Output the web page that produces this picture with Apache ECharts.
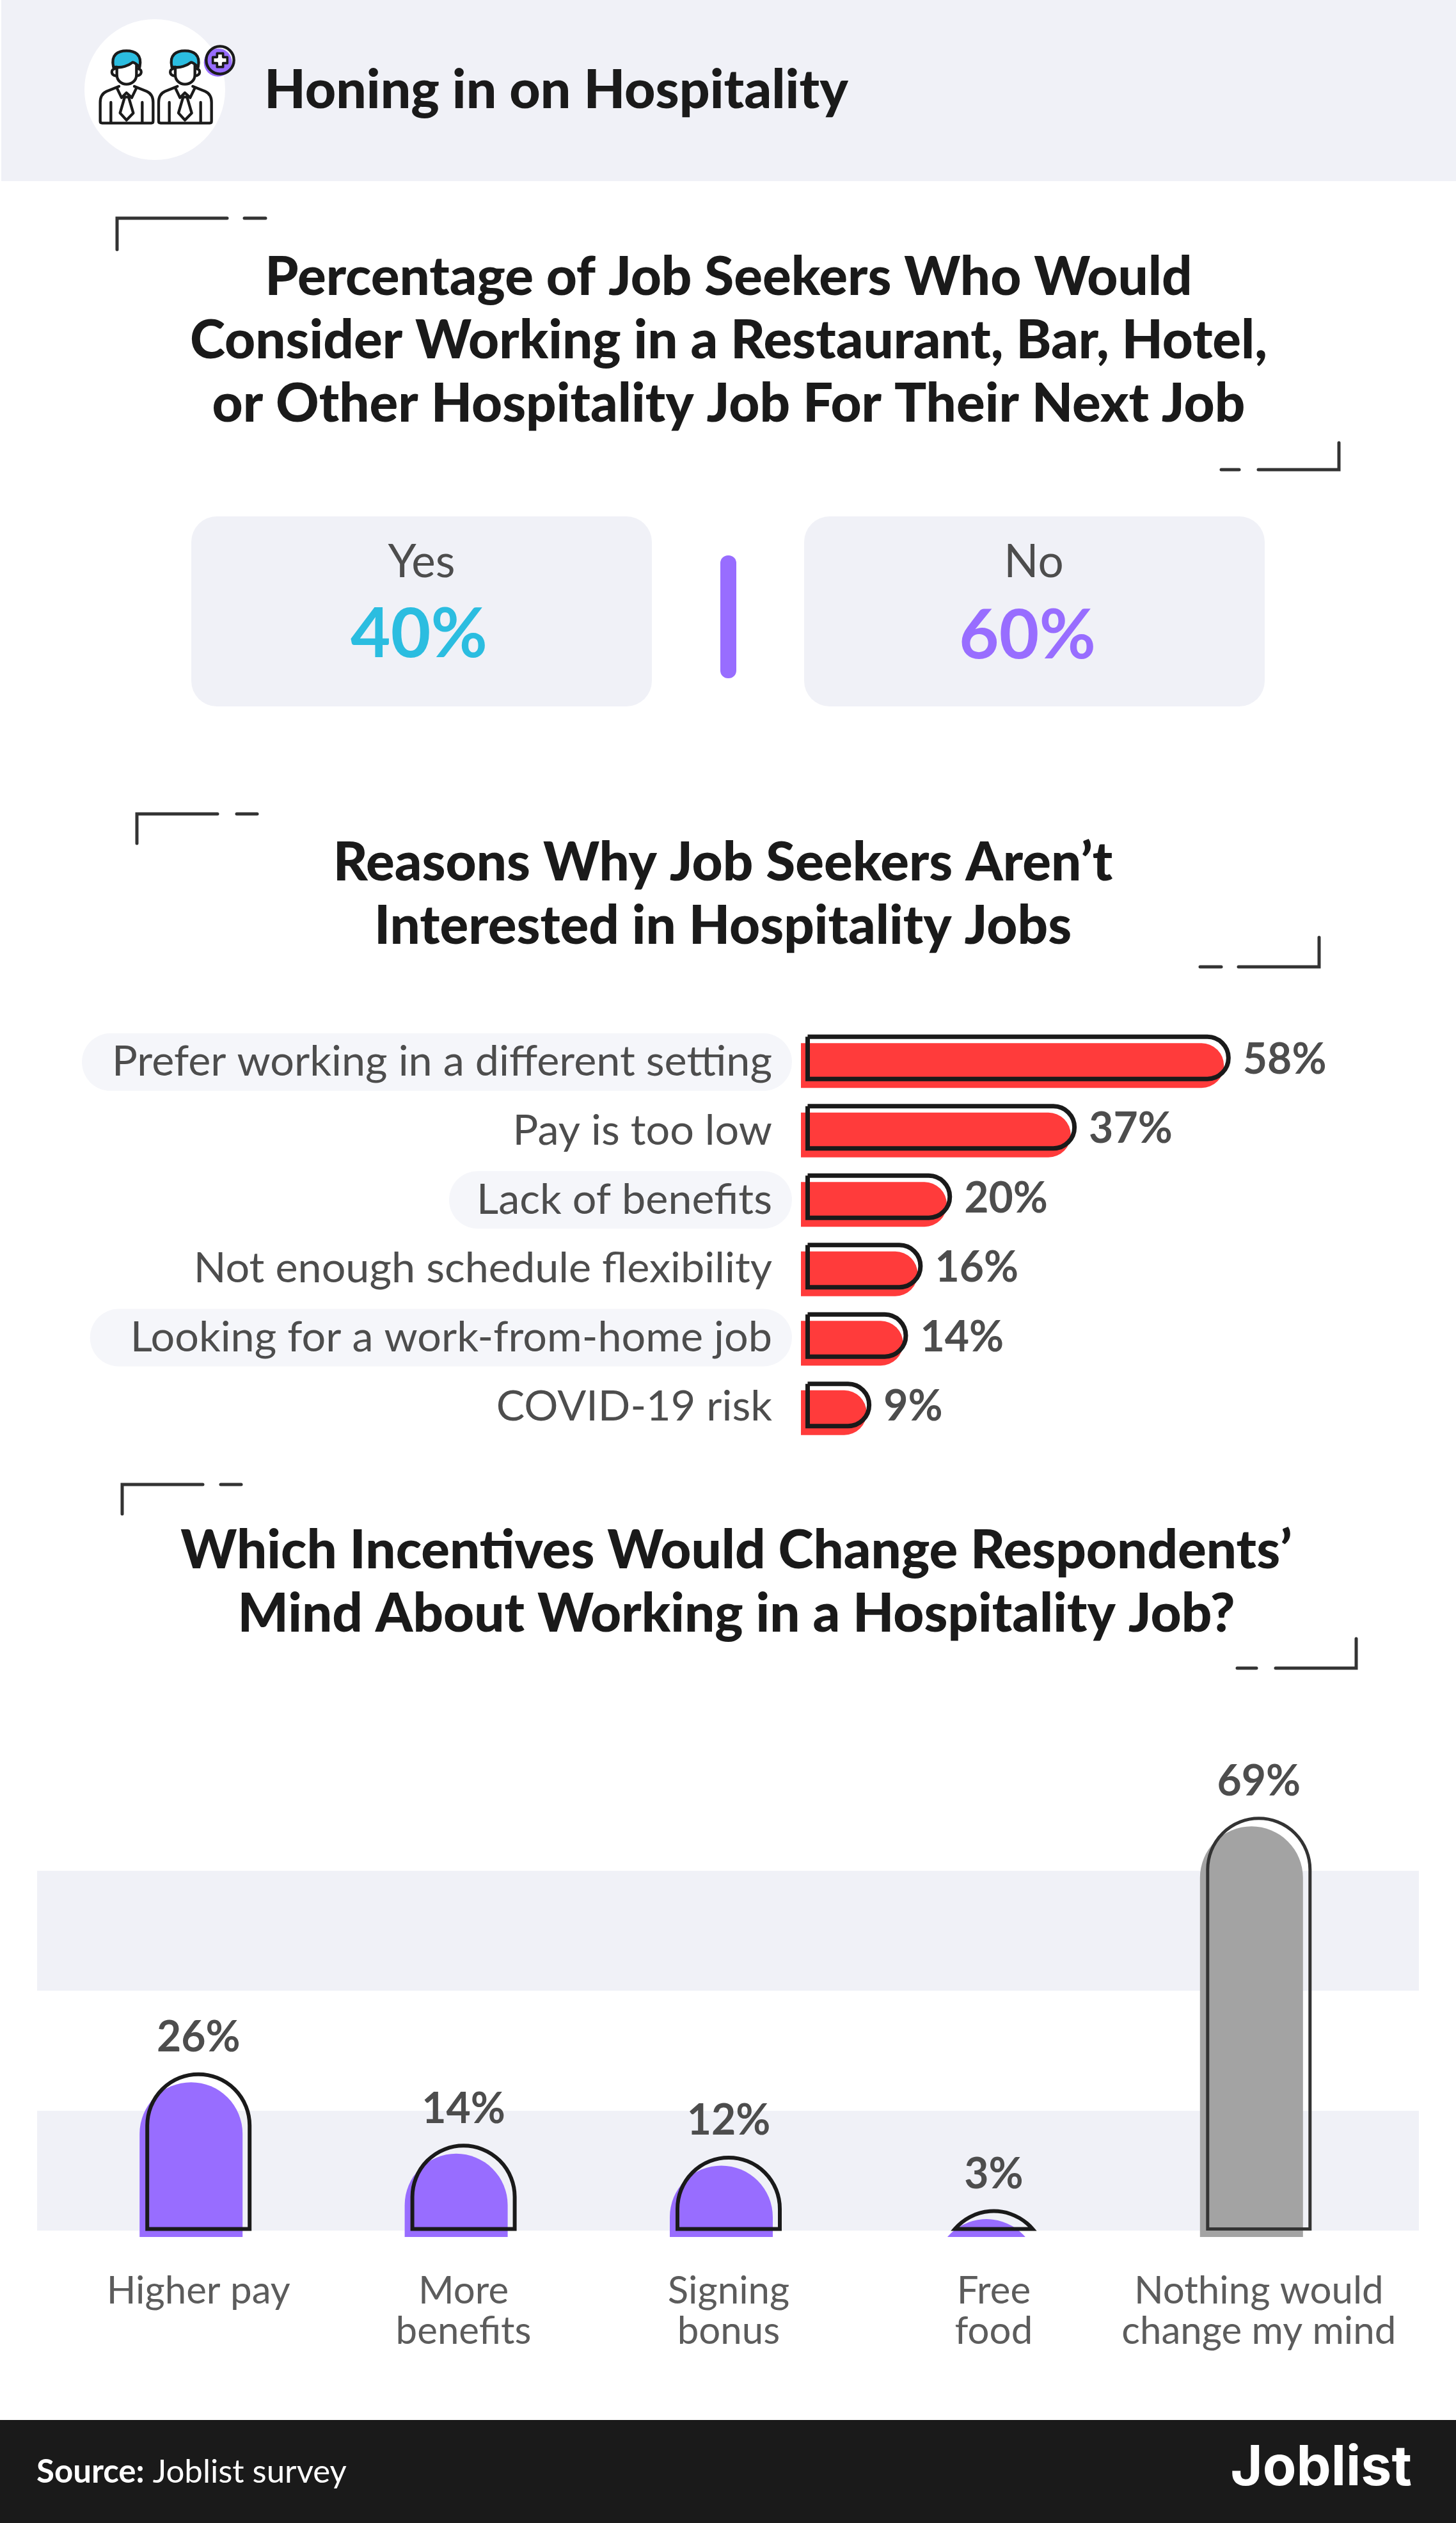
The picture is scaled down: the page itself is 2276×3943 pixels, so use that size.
<!DOCTYPE html>
<html>
<head>
<meta charset="utf-8">
<title>Honing in on Hospitality</title>
<script src="https://cdn.jsdelivr.net/npm/echarts@6/dist/echarts.min.js"></script>
<style>
  html, body { margin: 0; padding: 0; background: #fff; }
  #chart { width: 2276px; height: 3943px; }
</style>
</head>
<body>
<div id="chart"></div>
<script>
const pageTitle = "Honing in on Hospitality";
const surveyTitle = "Percentage of Job Seekers Who Would\nConsider Working in a Restaurant, Bar, Hotel,\nor Other Hospitality Job For Their Next Job";
const surveyLabels = ["Yes", "No"];
const surveyValues = [40, 60];

const reasonsTitle = "Reasons Why Job Seekers Aren\u2019t\nInterested in Hospitality Jobs";
const reasonLabels = [
  "Prefer working in a different setting",
  "Pay is too low",
  "Lack of benefits",
  "Not enough schedule flexibility",
  "Looking for a work-from-home job",
  "COVID-19 risk"
];
const reasonValues = [58, 37, 20, 16, 14, 9];

const incentivesTitle = "Which Incentives Would Change Respondents\u2019\nMind About Working in a Hospitality Job?";
const incentiveLabels = ["Higher pay", "More\nbenefits", "Signing\nbonus", "Free\nfood", "Nothing would\nchange my mind"];
const incentiveValues = [26, 14, 12, 3, 69];

const sourceLabel = "Source:";
const sourceText = "Joblist survey";
const brandText = "Joblist";

const INK = "#1a1a1a";
const TEXT = "#4d4d4d";
const BAND = "#f0f1f7";
const RED = "#ff3b3b";
const PURPLE = "#986dff";
const CYAN = "#2bbde0";
const GREY = "#a3a3a3";
const FONT = "Lato";

// pill behind every other reason label, left padding differs per row
const pillPadding = { 0: 47, 2: 43, 4: 63 };

const chart = echarts.init(document.getElementById("chart"));

function heading(text, x, y, size, lineHeight) {
  return {
    text: text,
    left: x,
    top: y,
    textAlign: "center",
    textStyle: { fontFamily: FONT, fontWeight: 900, fontSize: size, lineHeight: lineHeight, color: INK }
  };
}

// small corner marks around each section title
function bracket(x, y, dir, len, drop, gap, dash) {
  const style = { stroke: "#333", lineWidth: 5, fill: null, lineCap: "round" };
  return [
    { type: "polyline", shape: { points: [[x, y + dir * drop], [x, y], [x + dir * len, y]] }, style: style },
    { type: "line", shape: { x1: x + dir * (len + gap), y1: y, x2: x + dir * (len + gap + dash), y2: y }, style: style }
  ];
}

function box(x, y, w, h, r, color) {
  return { type: "rect", shape: { x: x, y: y, width: w, height: h, r: r }, style: { fill: color } };
}

function label(text, x, y, size, weight, color) {
  return {
    type: "text", z: 5,
    style: { text: text, x: x, y: y, fontFamily: FONT, fontSize: size, fontWeight: weight, fill: color, align: "center", verticalAlign: "middle" }
  };
}

// icon is drawn in the coordinates of a 3x crop, then scaled down.
// graphic component has no path type so it goes through a custom series
function person(dx) {
  const line = { stroke: INK, lineWidth: 13, fill: "transparent", lineJoin: "round", lineCap: "round" };
  const path = (d, style) => ({ type: "path", shape: { pathData: d }, style: Object.assign({}, line, style) });
  return {
    type: "group", x: dx, y: 0,
    children: [
      path("M172,255 C158,195 195,178 233,178 C272,178 308,195 295,255 C285,245 272,232 262,232 C240,250 210,258 188,255 Z", { fill: CYAN }),
      path("M188,255 L188,290 C188,318 210,335 233,335 C258,335 280,318 280,290 L280,245"),
      path("M178,262 C160,265 158,292 184,296"),
      path("M288,262 C308,265 308,292 282,296"),
      path("M198,345 L140,368 C120,377 110,395 110,420 L110,508 C110,514 113,517 119,517 L350,517 C356,517 358,514 358,508 L358,420 C358,395 348,377 328,368 L270,345"),
      path("M160,420 L160,515"),
      path("M307,420 L307,515"),
      path("M188,352 L210,398 L233,375 L258,398 L280,352"),
      path("M225,395 L243,395 L265,470 L233,503 L203,470 Z")
    ]
  };
}

function renderIcon() {
  return {
    type: "group", x: 120, y: 20, scaleX: 1 / 3, scaleY: 1 / 3,
    children: [
      person(0),
      person(274),
      { type: "circle", shape: { cx: 662, cy: 233, r: 66 }, style: { fill: PURPLE } },
      { type: "circle", shape: { cx: 672, cy: 222, r: 65 }, style: { fill: "transparent", stroke: INK, lineWidth: 13 } },
      { type: "path", shape: { pathData: "M658,190 L686,190 L686,208 L706,208 L706,236 L686,236 L686,254 L658,254 L658,236 L638,236 L638,208 L658,208 Z" }, style: { fill: "#fff", stroke: INK, lineWidth: 11, lineJoin: "round" } }
    ]
  };
}

const graphicElements = [
  box(2, 0, 2274, 283, 0, BAND),
  { type: "circle", shape: { cx: 242, cy: 140, r: 110 }, style: { fill: "#fff" } },
  ...bracket(183, 341, 1, 172, 49, 27, 33),
  ...bracket(2093, 734, -1, 126, 42, 30, 28),
  ...bracket(214, 1272, 1, 126, 46, 30, 32),
  ...bracket(2062, 1511, -1, 126, 46, 27, 33),
  ...bracket(191, 2320, 1, 126, 46, 28, 32),
  ...bracket(2120, 2607, -1, 126, 46, 30, 30),
  box(299, 807, 720, 297, 40, BAND),
  box(1257, 807, 720, 297, 40, BAND),
  box(1126, 868, 25, 192, 12, PURPLE),
  label(surveyLabels[0], 659, 879, 71, 400, TEXT),
  label(surveyValues[0] + "%", 655, 992, 108, 700, CYAN),
  label(surveyLabels[1], 1616, 879, 71, 400, TEXT),
  label(surveyValues[1] + "%", 1606, 994, 108, 700, PURPLE),
  box(0, 3782, 2276, 161, 0, INK),
  {
    type: "text", z: 5,
    style: {
      x: 57, y: 3864, verticalAlign: "middle", fontFamily: FONT, fontSize: 51, fill: "#fff",
      text: "{b|" + sourceLabel + "} " + sourceText,
      rich: { b: { fontFamily: FONT, fontSize: 51, fontWeight: 700, fill: "#fff" } }
    }
  },
  {
    type: "text", z: 5,
    style: { x: 2207, y: 3858, text: brandText, align: "right", verticalAlign: "middle", fontFamily: "Inter", fontSize: 86, fontWeight: 700, fill: "#fff" }
  }
];

// rich styles for the reason labels, right padding lines every row up at the same x
const reasonRich = { plain: { fontFamily: FONT, fontSize: 66.5, color: TEXT, padding: [0, 31, 0, 0] } };
Object.keys(pillPadding).forEach((i) => {
  reasonRich["pill" + i] = {
    fontFamily: FONT, fontSize: 66.5, color: TEXT,
    backgroundColor: "#f5f6fa", borderRadius: 45, height: 90,
    padding: [0, 31, 0, pillPadding[i]]
  };
});

const hidden = { show: false };

function bareValue(gridIndex, max, extra) {
  return Object.assign({
    type: "value", gridIndex: gridIndex, min: 0, max: max, interval: 20,
    axisLine: hidden, axisTick: hidden, axisLabel: hidden, splitLine: hidden
  }, extra);
}

function bareCategory(gridIndex, data, extra) {
  return Object.assign({
    type: "category", gridIndex: gridIndex, data: data,
    axisLine: hidden, axisTick: hidden, axisLabel: hidden, splitLine: hidden
  }, extra);
}

// arched column; short values cut the round top off like a clipped circle
function archColumn(params, api, width, stroke) {
  const base = api.coord([api.value(0), 0]);
  const top = api.coord([api.value(0), api.value(1)]);
  const h = base[1] - top[1];
  const r = width / 2;
  const cx = base[0];
  let d;
  if (h >= r) {
    d = `M${cx - r},${base[1]} L${cx - r},${top[1] + r} A${r},${r} 0 0 1 ${cx + r},${top[1] + r} L${cx + r},${base[1]} Z`;
  } else {
    const half = Math.sqrt(r * r - (r - h) * (r - h));
    d = `M${cx - half},${base[1]} A${r},${r} 0 0 1 ${cx + half},${base[1]} Z`;
  }
  const lastOne = params.dataIndex === incentiveValues.length - 1;
  const children = [];
  if (stroke) {
    children.push({ type: "path", shape: { pathData: d }, style: { fill: "transparent", stroke: lastOne ? "#333" : INK, lineWidth: lastOne ? 5 : 6, lineJoin: "miter" } });
    children.push({
      type: "text",
      style: {
        text: api.value(1) + "%", x: cx, y: top[1] - 57,
        fontFamily: FONT, fontSize: 66, fontWeight: 700, fill: TEXT, align: "center", verticalAlign: "middle"
      }
    });
  } else {
    children.push({ type: "path", shape: { pathData: d }, style: { fill: lastOne ? GREY : PURPLE } });
  }
  return { type: "group", children: children };
}

const incentivePoints = incentiveValues.map((v, i) => [i, v]);

const option = {
  backgroundColor: "#fff",
  animation: false,
  title: [
    { text: pageTitle, left: 408, top: 95, textStyle: { fontFamily: FONT, fontWeight: 900, fontSize: 84, color: INK } },
    heading(surveyTitle, 1134, 380, 83.5, 99),
    heading(reasonsTitle, 1125, 1295, 83.5, 99),
    heading(incentivesTitle, 1146, 2370, 83.5, 99)
  ],
  graphic: { elements: graphicElements },
  grid: [
    { left: 1252, top: 1611, width: 912, height: 651 },
    { left: 1259, top: 1599, width: 917, height: 651 },
    { left: 58, top: 2736, width: 2160, height: 750 },
    { left: 91.5, top: 2752, width: 2072, height: 744 },
    { left: 103, top: 2739.5, width: 2072, height: 744 },
    { left: 1252, top: 1606, width: 912, height: 646 }
  ],
  xAxis: [
    bareValue(0, 80),
    bareValue(1, 80),
    bareValue(2, 80),
    bareCategory(3, incentiveLabels),
    bareCategory(4, incentiveLabels, {
      axisLabel: { show: true, interval: 0, margin: 66, fontFamily: FONT, fontSize: 60, lineHeight: 63, color: "#5c5c5c" }
    }),
    bareValue(5, 80)
  ],
  yAxis: [
    bareCategory(0, reasonLabels, { inverse: true }),
    bareCategory(1, reasonLabels, { inverse: true }),
    bareValue(2, 80, { splitArea: { show: true, areaStyle: { color: [BAND, "#fff"] } } }),
    bareValue(3, 80),
    bareValue(4, 80),
    bareCategory(5, reasonLabels, {
      inverse: true,
      axisLabel: {
        show: true, interval: 0, margin: 14,
        formatter: (v, i) => `{${i in pillPadding ? "pill" + i : "plain"}|${v}}`,
        rich: reasonRich
      }
    })
  ],
  series: [
    {
      type: "custom", name: "Icon", coordinateSystem: "none", silent: true, z: 6,
      data: [0], renderItem: renderIcon
    },
    {
      type: "bar", name: "Reasons", xAxisIndex: 0, yAxisIndex: 0,
      data: reasonValues, barWidth: 70, silent: true,
      itemStyle: { color: RED, borderRadius: [0, 35, 35, 0] }
    },
    {
      // the bar border sits inside the bar, so barWidth is the outer height
      type: "bar", name: "Reasons outline", xAxisIndex: 1, yAxisIndex: 1,
      data: reasonValues, barWidth: 73, silent: true, z: 3,
      itemStyle: { color: "transparent", borderColor: INK, borderWidth: 7, borderRadius: [0, 33, 33, 0] },
      label: {
        show: true, position: "right", distance: 19, offset: [0, 3], formatter: "{c}%",
        fontFamily: FONT, fontSize: 66, fontWeight: 700, color: TEXT
      }
    },
    {
      type: "custom", name: "Incentives", xAxisIndex: 3, yAxisIndex: 3, silent: true, clip: false,
      data: incentivePoints, z: 3,
      renderItem: (params, api) => archColumn(params, api, 161, false)
    },
    {
      type: "custom", name: "Incentives outline", xAxisIndex: 4, yAxisIndex: 4, silent: true, clip: false,
      data: incentivePoints, z: 4,
      renderItem: (params, api) => archColumn(params, api, 160, true)
    }
  ]
};

chart.setOption(option);
</script>
</body>
</html>
